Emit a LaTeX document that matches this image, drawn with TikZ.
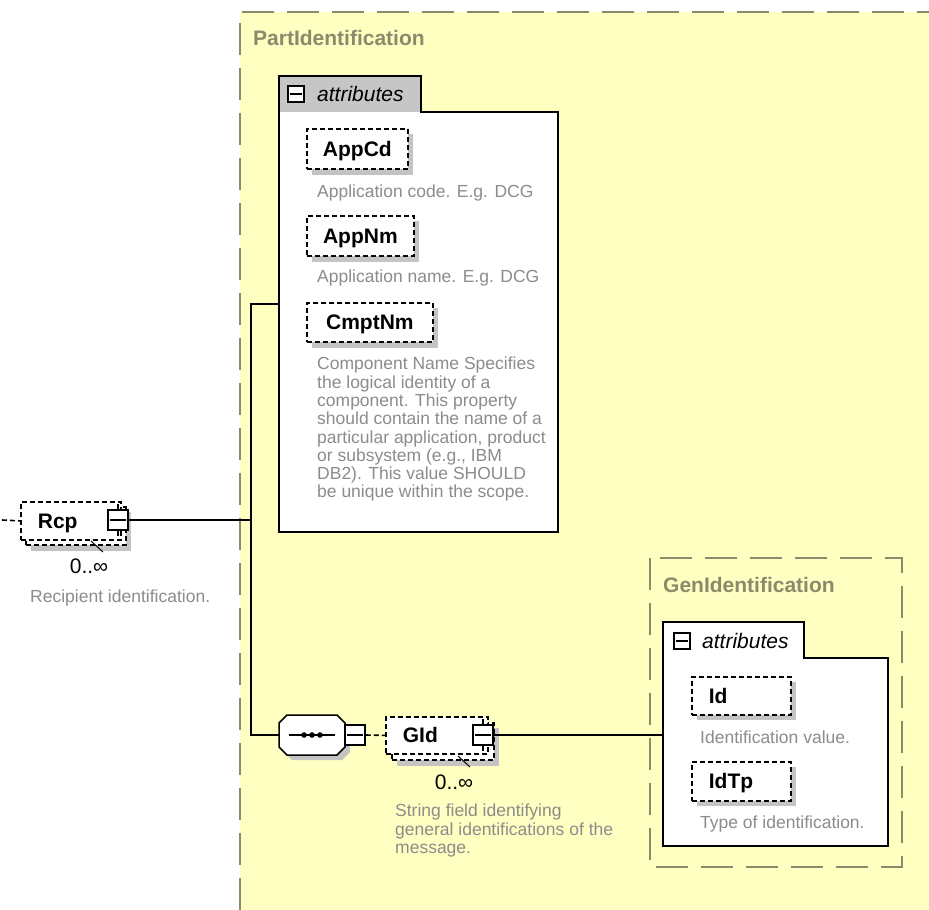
\documentclass[tikz,border=0pt]{standalone}
\usepackage{fontspec}
\setmainfont{Liberation Sans}
\newcommand\minusline[1]{\draw[line width=1.3pt] ([xshift=3pt]#1.west) -- ([xshift=-3pt]#1.east);}
\begin{document}
\begin{tikzpicture}[x=1pt,y=-1pt]
\definecolor{bgyellow}{HTML}{FFFFC2}
\definecolor{grpborder}{HTML}{8A8A6C}
\definecolor{desccol}{HTML}{8C8C8C}
\definecolor{tabgrey}{HTML}{C6C6C6}
\definecolor{shadecol}{HTML}{C4C4C4}
\tikzset{
  elembox/.style={draw=black, line width=1.8pt, dash pattern=on 5pt off 3pt, fill=white, inner sep=0pt, anchor=north west,
     font=\bfseries\fontsize{21}{24}\selectfont, text height=15pt, text depth=0pt},
  elleft/.style={inner xsep=17pt, text width=#1, align=left},
  desctext/.style={font=\fontsize{17.5}{18.3}\selectfont, text=desccol, align=left, inner sep=0pt},
  grptitle/.style={font=\bfseries\fontsize{21}{24}\selectfont, text=grpborder, inner sep=0pt, anchor=base west},
  attrlabel/.style={font=\itshape\fontsize{21}{24}\selectfont, inner sep=0pt, anchor=base west},
  occlabel/.style={font=\fontsize{21}{24}\selectfont, inner sep=0pt, anchor=base},
  conn/.style={draw=black, line width=1.5pt},
  minusbox/.style={draw=black, line width=1.5pt, fill=white, inner sep=0pt, minimum size=20pt},
  grpbox/.style={draw=grpborder, line width=1.3pt, dash pattern=on 32pt off 13pt},
  shadowfill/.style={fill=shadecol},
  optline/.style={draw=black, line width=1.6pt, dash pattern=on 5pt off 3pt},
}
\useasboundingbox (0,0) rectangle (929,910);
\fill[white] (0,0) rectangle (929,910);
% ---------- PartIdentification group ----------
\fill[bgyellow] (240,12) rectangle (929,910);
\draw[grpbox] (240,910) -- (240,12) -- (929,12);
\node[grptitle] (parttitle) at (253,45.5) {PartIdentification};

% attributes container (PartIdentification)
\node[draw=none, inner sep=0pt, minimum width=279pt, minimum height=420pt, anchor=north west] (partattr) at (279,112) {};
\fill[white] (279,532) -- (279,76) -- (421,76) -- (421,112) -- (558,112) -- (558,532) -- cycle;
\fill[tabgrey] (279,76) rectangle (421,112);
\draw[line width=1.7pt] (279,532) -- (279,76) -- (421,76) -- (421,112) -- (558,112) -- (558,532) -- cycle;
\node[minusbox, minimum size=16pt, line width=1.3pt] (partminus) at (296,94) {};
\minusline{partminus}
\node[attrlabel] (partattrlabel) at (317,101) {attributes};

% AppCd
\fill[shadowfill] (312,134) rectangle (413,175);
\node[elembox, minimum width=101pt, minimum height=40pt] (appcd) at (306,128) {AppCd};
\node[desctext, anchor=base west] (appcddesc) at (317,197) {Application code. E.g. DCG};
% AppNm
\fill[shadowfill] (312,221) rectangle (419,262);
\node[elembox, minimum width=107pt, minimum height=40pt] (appnm) at (306,215) {AppNm};
\node[desctext, anchor=base west] (appnmdesc) at (317,282) {Application name. E.g. DCG};
% CmptNm
\fill[shadowfill] (312,308) rectangle (438,348);
\node[elembox, minimum width=126pt, minimum height=39pt] (cmptnm) at (306,302) {CmptNm};
\node[desctext, anchor=north west] (cmptnmdesc) at (317,357) {Component Name Specifies\\the logical identity of a\\component. This property\\should contain the name of a\\particular application, product\\or subsystem (e.g., IBM\\DB2). This value SHOULD\\be unique within the scope.};

% ---------- Rcp ----------
\fill[shadowfill] (31,512) rectangle (131,551);
\node[elembox, minimum width=100pt, minimum height=38pt] (rcpback) at (25,506) {};
\node[elembox, elleft=66pt, minimum height=38pt] (rcp) at (20,501) {Rcp};
\node[minusbox] (rcpminus) at (118,520) {};
\minusline{rcpminus}
\draw[line width=1.3pt] (rcpminus.north) -- ++(0,-5);
\draw[line width=1.3pt] (rcpminus.south) -- ++(0,5);
\draw[line width=1pt] (91,541) -- (103,552);
\coordinate (rcpfree) at (2,520);
\draw[optline] (rcpfree) -- (rcp.west);
\node[occlabel] (rcpocc) at (89,573) {0..∞};
\node[desctext, anchor=base west] (rcpdesc) at (30,602) {Recipient identification.};

% ---------- sequence ----------
\fill[shadowfill] (292,720) -- (342,720) -- (350,728) -- (350,752) -- (342,760) -- (292,760) -- (284,752) -- (284,728) -- cycle;
\node[draw=none, inner sep=0pt, minimum width=66pt, minimum height=40pt] (seq) at (312,735) {};
\filldraw[fill=white, draw=black, line width=1.5pt] (287,715) -- (337,715) -- (345,723) -- (345,747) -- (337,755) -- (287,755) -- (279,747) -- (279,723) -- cycle;
\draw[line width=1.5pt] (289,735) -- (335,735);
\fill (304,735) circle (2.8);
\fill (312,735) circle (2.8);
\fill (320,735) circle (2.8);
\node[minusbox] (seqminus) at (355,735) {};
\minusline{seqminus}

% ---------- GId ----------
\fill[shadowfill] (397,728) rectangle (499,766);
\node[elembox, minimum width=102pt, minimum height=37pt] (gidback) at (391,722) {};
\node[elembox, elleft=68pt, minimum height=37pt] (gid) at (385,716) {GId};
\node[minusbox] (gidminus) at (483,735) {};
\minusline{gidminus}
\draw[line width=1.3pt] (gidminus.north) -- ++(0,-5);
\draw[line width=1.3pt] (gidminus.south) -- ++(0,5);
\draw[line width=1pt] (458,756) -- (470,767);
\node[occlabel] (gidocc) at (454,789) {0..∞};
\node[desctext, anchor=north west] (giddesc) at (395,804) {String field identifying\\general identifications of the\\message.};

% ---------- GenIdentification group ----------
\draw[grpbox] (650,558) rectangle (902,867);
\node[grptitle] (gentitle) at (663,592.5) {GenIdentification};
\node[draw=none, inner sep=0pt, minimum width=225pt, minimum height=188pt, anchor=north west] (genattr) at (663,658) {};
\filldraw[fill=white, draw=black, line width=1.7pt] (663,846) -- (663,622) -- (804,622) -- (804,658) -- (888,658) -- (888,846) -- cycle;
\node[minusbox, minimum size=16pt, line width=1.3pt] (genminus) at (682,641) {};
\minusline{genminus}
\node[attrlabel] (genattrlabel) at (702,648) {attributes};
% Id
\fill[shadowfill] (697,682) rectangle (796,720);
\node[elembox, elleft=65pt, minimum height=38pt] (id) at (691,676) {Id};
\node[desctext, anchor=base west] (iddesc) at (700,743) {Identification value.};
% IdTp
\fill[shadowfill] (697,767) rectangle (796,806);
\node[elembox, elleft=65pt, minimum height=39pt] (idtp) at (691,761) {IdTp};
\node[desctext, anchor=base west] (idtpdesc) at (700,828) {Type of identification.};

% ---------- connectors ----------
\coordinate (junc) at (251,520);
\coordinate (vtop) at (251,304);
\coordinate (attrin) at (279,304);
\coordinate (seqturn) at (251,735);
\draw[conn] (rcpminus.east) -- (junc);
\draw[conn] (attrin) -- (vtop) -- (seqturn) -- (seq.west);
\draw[optline] (seqminus.east) -- (gid.west);
\draw[conn] (gidminus.east) -- (genattr.west |- gidminus);
\end{tikzpicture}
\end{document}
